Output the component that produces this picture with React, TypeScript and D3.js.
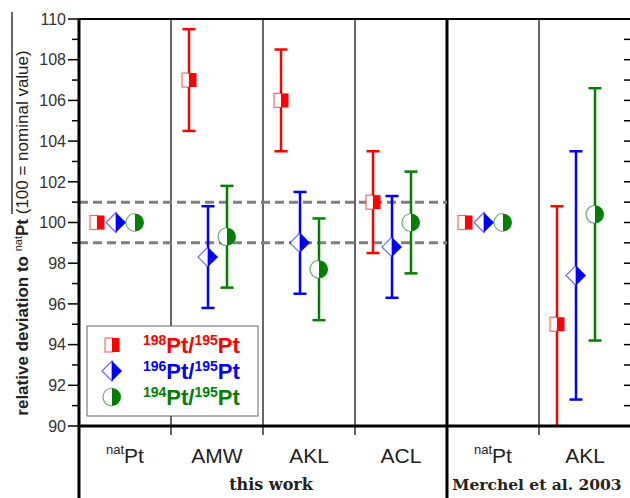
import React from 'react'
import * as d3 from 'd3'

// categories along x (two groups: this work / Merchel et al. 2003)
const categories = ['natPt1', 'AMW', 'AKL1', 'ACL', 'natPt2', 'AKL2']
const catLabels = ['Pt', 'AMW', 'AKL', 'ACL', 'Pt', 'AKL']
const catSup = ['nat', '', '', '', 'nat', '']

const seriesIds = ['198', '196', '194']
const seriesColors = ['#ff0000', '#0000ff', '#008000']

// values and +/- uncertainties
const pt198 = [100, 107, 106, 101, 100, 95]
const pt198Err = [0, 2.5, 2.5, 2.5, 0, 5.8]
const pt196 = [100, 98.3, 99, 98.8, 100, 97.4]
const pt196Err = [0, 2.5, 2.5, 2.5, 0, 6.1]
const pt194 = [100, 99.3, 97.7, 100, 100, 100.4]
const pt194Err = [0, 2.5, 2.5, 2.5, 0, 6.2]

const yTicks = [90, 92, 94, 96, 98, 100, 102, 104, 106, 108, 110]
const limitLines = [101, 99]

const W = 630, H = 498
const left = 79, right = 631, top = 19, bottom = 426

const x = d3.scaleBand().domain(categories).range([left, right]).padding(0)
const y = d3.scaleLinear().domain([90, 110]).range([bottom, top])
const off = d3.scalePoint().domain(seriesIds).range([-28, 10])

const sans = 'Arial, "Liberation Sans", sans-serif'

function Marker({ kind, color, cx, cy }) {
  if (kind === 0) {
    const w = 15, h = 14
    return (
      <g>
        <rect x={cx - w / 2 + 0.5} y={cy - h / 2} width={w / 2} height={h} fill="#fff" stroke={color} strokeOpacity={0.6} strokeWidth={1.2} />
        <rect x={cx} y={cy - h / 2} width={w / 2} height={h} fill={color} />
      </g>
    )
  }
  if (kind === 1) {
    const r = 10
    return (
      <g>
        <path d={`M${cx},${cy - r}L${cx - r},${cy}L${cx},${cy + r}Z`} fill="#fff" stroke={color} strokeOpacity={0.6} strokeWidth={1.2} />
        <path d={`M${cx},${cy - r}L${cx + r},${cy}L${cx},${cy + r}Z`} fill={color} />
      </g>
    )
  }
  const r = 9
  return (
    <g>
      <path d={`M${cx},${cy - r}A${r},${r} 0 0 0 ${cx},${cy + r}`} fill="#fff" stroke={color} strokeOpacity={0.6} strokeWidth={1.2} />
      <path d={`M${cx},${cy - r}A${r},${r} 0 0 1 ${cx},${cy + r}Z`} fill={color} />
    </g>
  )
}

export default function App() {
  const values = [pt198, pt196, pt194]
  const errs = [pt198Err, pt196Err, pt194Err]
  const minor = d3.range(90, 111, 1)

  return (
    <svg width={W} height={H} style={{ position: 'absolute', left: 0, top: 0, background: '#fff' }}>
      <defs>
        <clipPath id="plot">
          <rect x={left} y={top} width={right - left} height={bottom - top} />
        </clipPath>
      </defs>

      {/* dividers between categories */}
      {categories.slice(1).map((c, i) => {
        const xx = x(c)
        const thick = c === 'natPt2'
        return (
          <line key={c} x1={xx} x2={xx} y1={top} y2={thick ? H : bottom + 9}
            stroke={thick ? '#000' : '#333'} strokeWidth={thick ? 3 : 1.5} />
        )
      })}

      {/* dashed +-1% lines, this work only */}
      {limitLines.map(v => (
        <line key={v} x1={left} x2={x('natPt2')} y1={y(v)} y2={y(v)}
          stroke="#808080" strokeWidth={3} strokeDasharray="9,5" />
      ))}

      {/* error bars + markers */}
      <g clipPath="url(#plot)">
        {seriesIds.map((s, si) =>
          categories.map((c, ci) => {
            const cx = x(c) + x.bandwidth() / 2 + off(s)
            const v = values[si][ci], e = errs[si][ci]
            if (!e) return null
            return (
              <g key={s + c} stroke={seriesColors[si]} strokeWidth={2.5}>
                <line x1={cx} x2={cx} y1={y(v + e)} y2={y(v - e)} />
                <line x1={cx - 6.5} x2={cx + 6.5} y1={y(v + e)} y2={y(v + e)} />
                <line x1={cx - 6.5} x2={cx + 6.5} y1={y(v - e)} y2={y(v - e)} />
              </g>
            )
          })
        )}
      </g>
      {seriesIds.map((s, si) =>
        categories.map((c, ci) => (
          <Marker key={s + c} kind={si} color={seriesColors[si]}
            cx={x(c) + x.bandwidth() / 2 + off(s)} cy={y(values[si][ci])} />
        ))
      )}

      {/* axes */}
      <line x1={left} x2={right} y1={top} y2={top} stroke="#000" strokeWidth={2} />
      <line x1={left} x2={right} y1={bottom} y2={bottom} stroke="#000" strokeWidth={3} />
      <line x1={left} x2={left} y1={top} y2={H} stroke="#000" strokeWidth={3} />
      {minor.map(v => (
        <g key={v}>
          <line x1={v % 2 === 0 ? left - 11 : left - 7} x2={left} y1={y(v)} y2={y(v)} stroke="#000" strokeWidth={1.5} />
          <line x1={right - 7} x2={right} y1={y(v)} y2={y(v)} stroke="#000" strokeWidth={1.5} />
        </g>
      ))}
      {yTicks.map(v => (
        <text key={v} x={left - 13} y={y(v)} dy="0.36em" textAnchor="end"
          fontFamily={sans} fontSize={16} fill="#333">{v}</text>
      ))}

      {/* category labels */}
      {categories.map((c, i) => (
        <text key={c} x={x(c) + x.bandwidth() / 2} y={463} textAnchor="middle"
          fontFamily={sans} fontSize={21} fill="#222">
          {catSup[i] && <tspan fontSize={13} dy={-9}>{catSup[i]}</tspan>}
          <tspan dy={catSup[i] ? 9 : 0}>{catLabels[i]}</tspan>
        </text>
      ))}
      <text x={(left + x('natPt2')) / 2 + 8} y={490} textAnchor="middle"
        fontFamily='"DejaVu Serif", "Liberation Serif", serif' fontWeight="bold" fontSize={16} fill="#222">this work</text>
      <text x={537} y={490} textAnchor="middle"
        fontFamily='"DejaVu Serif", "Liberation Serif", serif' fontWeight="bold" fontSize={15.5} fill="#222">Merchel et al. 2003</text>

      {/* y label */}
      <line x1={12} x2={12} y1={12} y2={214} stroke="#000" strokeWidth={1.2} />
      <text transform="translate(28,233) rotate(-90)" textAnchor="middle"
        fontFamily={sans} fontSize={17} fill="#222">
        <tspan fontWeight="bold">relative deviation to </tspan>
        <tspan fontSize={11} dy={-6}>nat</tspan>
        <tspan fontWeight="bold" dy={6}>Pt</tspan>
        <tspan> (100 = nominal value)</tspan>
      </text>

      {/* legend */}
      <rect x={87} y={326} width={171} height={90} fill="#fff" stroke="#666" strokeWidth={1} />
      {seriesIds.map((s, si) => {
        const ry = 345 + si * 26
        return (
          <g key={s}>
            <Marker kind={si} color={seriesColors[si]} cx={112} cy={ry} />
            <text x={143} y={ry + 8} fontFamily={sans} fontWeight="bold" fontSize={22} fill={seriesColors[si]}>
              <tspan fontSize={14} dy={-8}>{s}</tspan>
              <tspan dy={8}>Pt/</tspan>
              <tspan fontSize={14} dy={-8}>195</tspan>
              <tspan dy={8}>Pt</tspan>
            </text>
          </g>
        )
      })}
    </svg>
  )
}
